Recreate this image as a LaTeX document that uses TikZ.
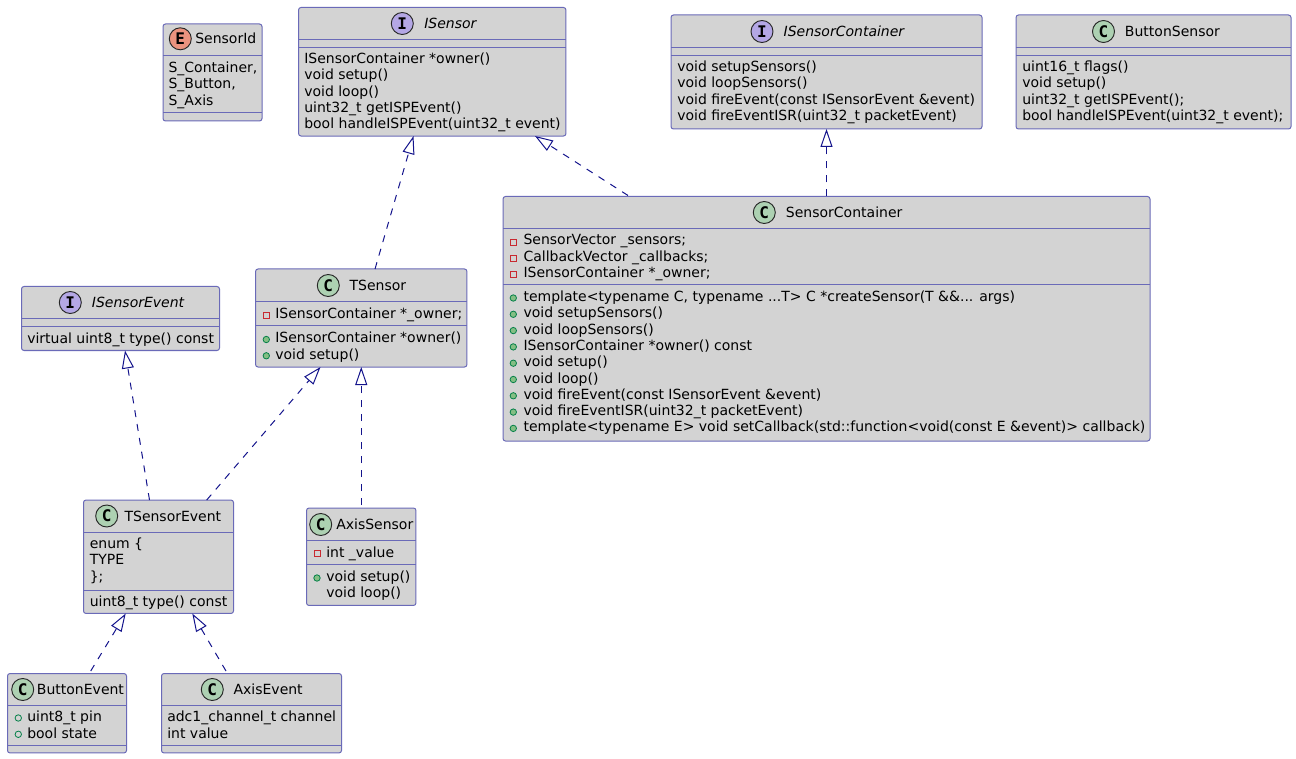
\documentclass[tikz,border=0pt]{standalone}
\usepackage{fontspec}
\setmainfont{DejaVu Sans}
\newfontfamily\iconfont{DejaVu Sans Mono}
\usepackage{tikz}
\usetikzlibrary{arrows.meta, calc}

\definecolor{boxfill}{HTML}{D3D3D3}
\definecolor{boxline}{HTML}{6A6AB8}
\definecolor{implline}{HTML}{14148C}
\definecolor{iconc}{HTML}{ADD1B2}
\definecolor{iconi}{HTML}{B4A7E5}
\definecolor{icone}{HTML}{EB937F}
\definecolor{publine}{HTML}{038048}
\definecolor{pubfill}{HTML}{84BE84}
\definecolor{privline}{HTML}{C82930}

\begin{document}
\begin{tikzpicture}[
  x=0.75pt, y=-0.75pt,
  classbox/.style={rectangle, draw=boxline, fill=boxfill, line width=0.75pt, rounded corners=1.9pt, outer sep=0pt, inner sep=0pt},
  sep/.style={draw=boxline, line width=0.75pt},
  impl/.style={draw=implline, line width=0.75pt, dash pattern=on 5.25pt off 5.25pt, -{Triangle[fill=white, length=13.5pt, width=9pt]}},
  icon/.style={circle, draw=black!85, line width=0.7pt, minimum size=16.5pt, inner sep=0pt, font=\iconfont\bfseries\fontsize{12}{12}\selectfont},
  title/.style={anchor=base west, inner sep=0pt, font=\fontsize{10.5}{12}\selectfont},
  ititle/.style={title, font=\fontsize{10.5}{12}\selectfont\itshape},
  member/.style={anchor=base west, inner sep=0pt, font=\fontsize{10.5}{12}\selectfont},
  priv/.style={rectangle, draw=privline, line width=0.6pt, minimum size=4.6pt, inner sep=0pt},
  pubm/.style={circle, draw=publine, fill=pubfill, line width=0.6pt, minimum size=4.8pt, inner sep=0pt},
  pubf/.style={circle, draw=publine, line width=0.6pt, minimum size=4.8pt, inner sep=0pt}
]
  \useasboundingbox (0,0) rectangle (1296,759);

  % boxes
  \node[classbox, minimum width=74.25pt, minimum height=72.75pt] (sensorid) at (212.5,72.5) {};
  \node[classbox, minimum width=200.6pt, minimum height=96.4pt] (isensor) at (432.25,71.75) {};
  \node[classbox, minimum width=233.25pt, minimum height=85.5pt] (icontainer) at (826.5,72) {};
  \node[classbox, minimum width=206.25pt, minimum height=85.5pt] (buttonsensor) at (1153.5,72) {};
  \node[classbox, minimum width=485.25pt, minimum height=183.4pt] (container) at (826.5,318.75) {};
  \node[classbox, minimum width=158.6pt, minimum height=73.5pt] (tsensor) at (361.25,318) {};
  \node[classbox, minimum width=148.5pt, minimum height=48pt] (isensorevent) at (120.5,318.5) {};
  \node[classbox, minimum width=112.5pt, minimum height=85.1pt] (tsensorevent) at (158.5,556.75) {};
  \node[classbox, minimum width=82.1pt, minimum height=73.1pt] (axissensor) at (361.25,556.75) {};
  \node[classbox, minimum width=89.25pt, minimum height=59.6pt] (buttonevent) at (67,713.25) {};
  \node[classbox, minimum width=135pt, minimum height=59.6pt] (axisevent) at (251.5,713.25) {};

  % separators
  \draw[sep] (sensorid.west |- 0,55.5) -- (sensorid.east |- 0,55.5);
  \draw[sep] (sensorid.west |- 0,112.5) -- (sensorid.east |- 0,112.5);
  \draw[sep] (isensor.west |- 0,39.5) -- (isensor.east |- 0,39.5);
  \draw[sep] (isensor.west |- 0,47.5) -- (isensor.east |- 0,47.5);
  \draw[sep] (icontainer.west |- 0,47.5) -- (icontainer.east |- 0,47.5);
  \draw[sep] (icontainer.west |- 0,55.5) -- (icontainer.east |- 0,55.5);
  \draw[sep] (buttonsensor.west |- 0,47.5) -- (buttonsensor.east |- 0,47.5);
  \draw[sep] (buttonsensor.west |- 0,55.5) -- (buttonsensor.east |- 0,55.5);
  \draw[sep] (container.west |- 0,228.5) -- (container.east |- 0,228.5);
  \draw[sep] (container.west |- 0,285) -- (container.east |- 0,285);
  \draw[sep] (tsensor.west |- 0,301.5) -- (tsensor.east |- 0,301.5);
  \draw[sep] (tsensor.west |- 0,326) -- (tsensor.east |- 0,326);
  \draw[sep] (isensorevent.west |- 0,318.5) -- (isensorevent.east |- 0,318.5);
  \draw[sep] (isensorevent.west |- 0,326.5) -- (isensorevent.east |- 0,326.5);
  \draw[sep] (tsensorevent.west |- 0,532) -- (tsensorevent.east |- 0,532);
  \draw[sep] (tsensorevent.west |- 0,590) -- (tsensorevent.east |- 0,590);
  \draw[sep] (axissensor.west |- 0,540.5) -- (axissensor.east |- 0,540.5);
  \draw[sep] (axissensor.west |- 0,564.5) -- (axissensor.east |- 0,564.5);
  \draw[sep] (buttonevent.west |- 0,705.5) -- (buttonevent.east |- 0,705.5);
  \draw[sep] (buttonevent.west |- 0,745) -- (buttonevent.east |- 0,745);
  \draw[sep] (axisevent.west |- 0,705.5) -- (axisevent.east |- 0,705.5);
  \draw[sep] (axisevent.west |- 0,745) -- (axisevent.east |- 0,745);

  % headers
  \node[icon, fill=icone] (sensoridicon) at (180.3,38.8) {E};
  \node[title] (sensoridname) at (195,44) {SensorId};
  \node[icon, fill=iconi] (isensoricon) at (402.3,23.5) {I};
  \node[ititle] (isensorname) at (424,28.5) {ISensor};
  \node[icon, fill=iconi] (icontainericon) at (762,31.5) {I};
  \node[ititle] (icontainername) at (783.4,36.5) {ISensorContainer};
  \node[icon, fill=iconc] (buttonsensoricon) at (1103.5,31.5) {C};
  \node[title] (buttonsensorname) at (1124.7,36.5) {ButtonSensor};
  \node[icon, fill=iconc] (containericon) at (764.3,212.5) {C};
  \node[title] (containername) at (785.7,217.5) {SensorContainer};
  \node[icon, fill=iconc] (tsensoricon) at (328.3,285.5) {C};
  \node[title] (tsensorname) at (349.3,290.5) {TSensor};
  \node[icon, fill=iconi] (isensoreventicon) at (70.3,302.5) {I};
  \node[ititle] (isensoreventname) at (91.7,307.5) {ISensorEvent};
  \node[icon, fill=iconc] (tsensoreventicon) at (106.7,516) {C};
  \node[title] (tsensoreventname) at (124.3,521) {TSensorEvent};
  \node[icon, fill=iconc] (axissensoricon) at (320.7,524.5) {C};
  \node[title] (axissensorname) at (336,529.5) {AxisSensor};
  \node[icon, fill=iconc] (buttoneventicon) at (22.7,689.5) {C};
  \node[title] (buttoneventname) at (36.7,694.5) {ButtonEvent};
  \node[icon, fill=iconc] (axiseventicon) at (212.3,689.5) {C};
  \node[title] (axiseventname) at (233.3,694.5) {AxisEvent};

  % members
  \foreach \i/\t in {0/{S\_Container,},1/{S\_Button,},2/{S\_Axis}}
    \node[member] (sensorid-\i) at (168.3,{72.5+16.3*\i}) {\t};
  \foreach \i/\t in {0/{ISensorContainer *owner()},1/{void setup()},2/{void loop()},3/{uint32\_t getISPEvent()},4/{bool handleISPEvent(uint32\_t event)}}
    \node[member] (isensor-\i) at (304,{63.5+16.3*\i}) {\t};
  \foreach \i/\t in {0/{void setupSensors()},1/{void loopSensors()},2/{void fireEvent(const ISensorEvent \&event)},3/{void fireEventISR(uint32\_t packetEvent)}}
    \node[member] (icontainer-\i) at (677,{71.5+16.3*\i}) {\t};
  \foreach \i/\t in {0/{uint16\_t flags()},1/{void setup()},2/{uint32\_t getISPEvent();},3/{bool handleISPEvent(uint32\_t event);}}
    \node[member] (buttonsensor-\i) at (1022,{71.5+16.3*\i}) {\t};
  \foreach \i/\t in {0/{SensorVector \_sensors;},1/{CallbackVector \_callbacks;},2/{ISensorContainer *\_owner;}} {
    \node[priv] (containerf-icon-\i) at (513.3,{242+16.3*\i}) {};
    \node[member] (containerf-\i) at (523.3,{245+16.3*\i}) {\t};
  }
  \foreach \i/\t in {0/{template<typename C, typename ...T> C *createSensor(T \&\&... args)},1/{void setupSensors()},2/{void loopSensors()},3/{ISensorContainer *owner() const},4/{void setup()},5/{void loop()},6/{void fireEvent(const ISensorEvent \&event)},7/{void fireEventISR(uint32\_t packetEvent)},8/{template<typename E> void setCallback(std::function<void(const E \&event)> callback)}} {
    \node[pubm] (containerm-icon-\i) at (513.3,{298+16.3*\i}) {};
    \node[member] (containerm-\i) at (523.3,{301.5+16.3*\i}) {\t};
  }
  \node[priv] (tsensorf-icon) at (266.3,315.3) {};
  \node[member] (tsensorf) at (275,318.5) {ISensorContainer *\_owner;};
  \foreach \i/\t in {0/{ISensorContainer *owner()},1/{void setup()}} {
    \node[pubm] (tsensorm-icon-\i) at (266.3,{339.5+16.3*\i}) {};
    \node[member] (tsensorm-\i) at (275,{343+16.3*\i}) {\t};
  }
  \node[member] (isensorevent-0) at (27,343.3) {virtual uint8\_t type() const};
  \foreach \i/\t in {0/{enum \{},1/{TYPE},2/{\};}}
    \node[member] (tsensorf-\i) at (89.5,{548.5+16.3*\i}) {\t};
  \node[member] (tsensoreventm) at (89.5,606) {uint8\_t type() const};
  \node[priv] (axissensorf-icon) at (317,553.5) {};
  \node[member] (axissensorf) at (326,557) {int \_value};
  \node[pubm] (axissensorm-icon) at (317,578) {};
  \node[member] (axissensorm-0) at (326,581.5) {void setup()};
  \node[member] (axissensorm-1) at (326,597.8) {void loop()};
  \foreach \i/\t in {0/{uint8\_t pin},1/{bool state}} {
    \node[pubf] (buttonevent-icon-\i) at (18.3,{718+16.3*\i}) {};
    \node[member] (buttonevent-\i) at (27,{721.7+16.3*\i}) {\t};
  }
  \foreach \i/\t in {0/{adc1\_channel\_t channel},1/{int value}}
    \node[member] (axisevent-\i) at (167,{721.7+16.3*\i}) {\t};

  % connectors
  \draw[impl] ($(tsensor.north west)+(119.5,0)$) -- ($(isensor.south west)+(115,0)$);
  \draw[impl] ($(container.north west)+(125,-1)$) -- ($(isensor.south west)+(236.5,0)$);
  \draw[impl] (container.north) -- (icontainer.south);
  \draw[impl] ($(tsensorevent.north west)+(66,0)$) -- ($(isensorevent.south west)+(103.5,0)$);
  \draw[impl] ($(tsensorevent.north west)+(123.2,0)$) -- ($(tsensor.south west)+(65,0)$);
  \draw[impl] ($(axissensor.north)+(0,-3)$) -- (tsensor.south);
  \draw[impl] ($(buttonevent.north west)+(83.2,-2.5)$) -- ($(tsensorevent.south west)+(42.2,0)$);
  \draw[impl] ($(axisevent.north west)+(64.5,-2.5)$) -- ($(tsensorevent.south west)+(108.8,0)$);
\end{tikzpicture}
\end{document}
